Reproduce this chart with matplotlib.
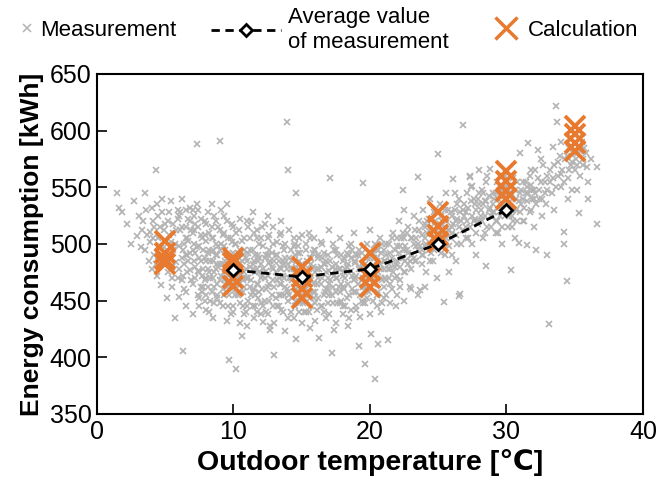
import matplotlib
matplotlib.use("Agg")
import matplotlib.pyplot as plt
from matplotlib.lines import Line2D

plt.rcParams['font.family'] = ['Liberation Sans', 'DejaVu Sans']

meas_t = [
 1.5,1.6,1.8,2.2,2.5,2.7,3.1,3.3,3.5,3.2,2.9,
 3.6,3.9,3.9,4.1,4.3,4.4,4.6,4.7,4.2,4.8,4.5,4.9,3.8,4.0,
 5.1,5.2,5.3,5.4,5.6,5.7,5.8,6.0,6.1,6.2,6.3,6.4,6.5,6.6,6.7,6.8,6.9,5.5,5.9,6.2,6.6,6.8,5.3,6.0,6.4,
 7.0,7.1,7.2,7.3,7.4,7.5,7.6,7.7,7.8,7.9,8.0,8.1,8.2,8.3,8.4,8.5,8.6,8.7,8.8,8.9,7.2,7.5,7.9,8.2,8.6,8.8,7.4,7.7,8.0,8.4,9.0,7.1,7.9,8.3,8.7,
 9.0,9.1,9.2,9.3,9.4,9.5,9.6,9.7,9.8,9.9,10.0,10.1,10.2,10.3,10.4,10.5,10.6,10.7,10.8,10.9,11.0,9.2,9.5,9.8,10.1,10.4,10.7,10.9,9.3,9.6,10.0,10.3,10.6,10.8,9.1,9.4,9.9,10.2,10.5,11.0,
 11.1,11.2,11.3,11.4,11.5,11.6,11.7,11.8,11.9,12.0,12.1,12.2,12.3,12.4,12.5,12.6,12.7,12.7,12.8,12.9,13.0,11.3,11.6,11.9,12.2,12.5,12.8,11.4,11.8,12.1,12.4,12.9,11.2,11.7,12.6,
 13.1,13.2,13.3,13.4,13.5,13.6,13.7,13.8,13.9,14.0,14.1,14.2,14.3,14.4,14.5,14.6,14.6,14.7,14.8,14.9,15.0,13.3,13.6,13.9,14.2,14.5,14.8,13.2,13.7,14.1,14.4,14.9,13.5,14.0,14.7,
 15.1,15.2,15.3,15.4,15.5,15.6,15.7,15.8,15.9,16.0,16.1,16.2,16.3,16.4,16.5,16.6,16.7,16.8,16.9,17.0,15.3,15.7,16.0,16.4,16.8,15.2,15.9,16.6,17.0,15.5,16.2,16.9,17.1,
 17.2,17.4,17.1,17.3,17.5,17.6,17.7,17.8,17.9,18.0,18.1,18.2,18.3,18.4,18.5,18.6,18.7,18.8,18.9,19.0,17.5,17.9,18.3,18.7,17.3,18.0,18.6,19.0,
 19.1,19.2,19.3,19.4,19.5,19.6,19.7,19.8,19.9,20.0,20.1,20.2,20.3,20.4,20.5,20.6,20.7,20.8,20.9,21.0,19.3,19.6,20.0,20.3,20.6,20.9,19.4,19.8,20.5,21.0,
 21.1,21.2,21.3,21.4,21.5,21.6,21.7,21.8,21.9,22.0,22.1,22.2,22.3,22.4,22.5,22.6,22.7,22.8,22.9,23.0,21.5,22.0,22.5,21.2,22.8,
 23.1,23.2,23.3,23.4,23.5,23.6,23.7,23.8,23.9,24.0,24.1,24.2,24.3,24.4,24.5,24.6,24.7,24.8,24.9,25.0,23.5,24.0,24.5,25.0,23.8,
 25.1,25.2,25.4,25.3,25.5,25.6,25.7,25.8,25.9,26.0,26.1,26.2,26.3,26.4,26.5,26.6,26.7,26.8,26.9,27.0,25.5,26.0,26.5,27.0,25.8,26.3,26.8,
 27.1,27.3,27.3,27.4,27.5,27.6,27.7,27.8,27.9,28.0,28.1,28.2,28.3,28.4,28.5,28.6,28.7,28.8,28.9,29.0,27.5,28.0,28.5,29.0,27.8,28.3,
 29.1,29.2,29.3,29.4,29.5,29.6,29.7,29.8,29.9,30.0,30.1,30.2,30.3,30.4,30.5,30.6,30.7,30.8,30.9,31.0,29.5,30.0,30.5,31.0,
 31.1,31.2,31.3,31.5,31.6,31.4,31.7,31.8,31.9,32.0,32.1,32.2,32.3,32.4,32.5,32.6,32.7,32.8,32.9,33.0,31.5,32.0,32.5,33.0,
 33.1,33.2,33.4,33.6,33.7,33.3,33.5,33.8,33.9,34.0,34.2,34.2,34.1,34.3,34.4,34.5,34.6,34.7,34.8,34.9,35.0,33.5,34.0,34.5,
 35.1,35.3,35.4,35.5,35.6,35.8,35.9,36.0,36.2,36.6,36.6,35.2,35.7,36.0,
 # denser core of the cloud
 4.1,4.3,4.6,4.9,5.0,5.2,5.4,5.6,5.8,5.9,4.4,5.1,5.5,5.7,6.0,
 6.1,6.2,6.3,6.4,6.5,6.6,6.7,6.8,6.9,7.0,7.1,7.2,7.3,7.4,7.5,7.6,7.7,7.8,7.9,8.0,6.3,6.7,7.0,7.4,7.8,6.5,7.2,7.6,8.0,
 8.1,8.2,8.3,8.4,8.5,8.6,8.7,8.8,8.9,9.0,9.1,9.2,9.3,9.4,9.5,9.6,9.7,9.8,9.9,10.0,8.2,8.5,8.9,9.2,9.5,9.8,8.4,8.8,9.3,9.7,8.1,8.6,9.0,9.4,9.9,
 10.1,10.2,10.3,10.4,10.5,10.6,10.7,10.8,10.9,11.0,11.1,11.2,11.3,11.4,11.5,11.6,11.7,11.8,11.9,12.0,10.2,10.5,10.8,11.1,11.4,11.7,12.0,10.3,10.7,11.2,11.6,11.9,10.1,10.9,11.5,
 12.1,12.2,12.3,12.4,12.5,12.6,12.7,12.8,12.9,13.0,13.1,13.2,13.3,13.4,13.5,13.6,13.7,13.8,13.9,14.0,12.2,12.6,13.0,13.4,13.8,12.4,12.9,13.3,13.7,14.0,12.3,13.1,13.6,
 14.1,14.2,14.3,14.4,14.5,14.6,14.7,14.8,14.9,15.0,15.1,15.2,15.3,15.4,15.5,15.6,15.7,15.8,15.9,16.0,14.2,14.6,15.0,15.4,15.8,14.4,14.8,15.3,15.7,16.0,14.3,15.1,15.6,
 16.1,16.2,16.3,16.4,16.5,16.6,16.7,16.8,16.9,17.0,17.1,17.2,17.3,17.4,17.5,17.6,17.7,17.8,17.9,18.0,16.2,16.6,17.0,17.4,17.8,16.4,16.8,17.2,17.6,18.0,16.1,16.9,17.5,
 18.1,18.2,18.3,18.4,18.5,18.6,18.7,18.8,18.9,19.0,19.1,19.2,19.3,19.4,19.5,19.6,19.7,19.8,19.9,20.0,18.2,18.6,19.0,19.4,19.8,18.4,18.8,19.2,19.6,20.0,18.1,18.9,19.5,
 20.1,20.2,20.3,20.4,20.5,20.6,20.7,20.8,20.9,21.0,21.1,21.2,21.3,21.4,21.5,21.6,21.7,21.8,21.9,22.0,20.2,20.6,21.0,21.4,21.8,20.4,20.8,21.2,21.6,22.0,
 22.1,22.2,22.3,22.4,22.5,22.6,22.7,22.8,22.9,23.0,23.1,23.2,23.3,23.4,23.5,23.6,23.7,23.8,23.9,24.0,22.2,22.6,23.0,23.4,23.8,22.4,23.2,24.0,
 24.1,24.2,24.3,24.4,24.5,24.6,24.7,24.8,24.9,25.0,25.1,25.2,25.3,25.4,25.5,25.6,25.7,25.8,25.9,26.0,24.4,24.8,25.2,25.6,26.0,
 26.1,26.2,26.3,26.4,26.5,26.6,26.7,26.8,26.9,27.0,27.1,27.2,27.3,27.4,27.5,27.6,27.7,27.8,27.9,28.0,26.4,27.2,28.0,
 28.1,28.2,28.3,28.4,28.5,28.6,28.7,28.8,28.9,29.0,29.1,29.2,29.3,29.4,29.5,29.6,29.7,29.8,29.9,30.0,28.4,29.2,29.8,
 30.1,30.2,30.3,30.4,30.5,30.6,30.7,30.8,30.9,31.0,31.1,31.2,31.3,31.4,31.5,31.6,31.7,31.8,31.9,32.0,30.4,31.2,31.8,
 32.1,32.2,32.3,32.4,32.6,32.8,33.0,33.2,33.4,33.6,33.8,34.0,34.2,34.4,34.6,34.8,35.0,35.2,35.4,35.6,
 # upper edge of the cloud
 3.4,3.7,4.0,4.2,4.5,4.8,5.0,5.3,5.6,5.9,6.2,6.5,6.8,7.1,7.3,7.6,7.9,8.1,8.4,8.7,9.0,9.3,9.6,9.9,10.2,
 10.5,10.8,11.1,11.4,11.7,12.0,12.3,12.6,12.9,13.2,13.5,13.8,14.1,14.4,14.7,15.0,15.3,15.6,15.9,6.0,7.0,8.0,9.5,11.0,12.5,
 # lower edge of the cloud
 6.5,7.0,7.5,8.0,8.5,9.0,9.5,10.0,10.5,11.0,11.5,12.0,12.5,13.0,13.5,14.0,14.5,15.0,15.5,16.0,16.5,
 17.0,17.5,18.0,18.5,19.0,19.5,20.0,20.5,21.0,21.5,22.0,22.5,23.0,23.5,24.0,8.8,11.8,14.8,17.8,20.8,22.2,
 # middle fill
 3.5,4.5,5.5,6.5,7.5,8.5,9.5,10.5,11.5,12.5,13.5,14.5,15.5,16.5,17.5,18.5,19.5,20.5,21.5,22.5,
]
meas_e = [
 545,532,528,518,500,538,525,512,545,497,507,
 530,511,502,520,565,535,515,464,490,528,505,497,485,478,
 452,520,508,538,495,435,512,453,528,488,406,500,515,475,522,492,468,480,470,540,505,532,490,498,460,
 510,485,470,588,530,498,462,505,478,520,455,492,510,470,535,485,448,500,465,515,492,445,488,475,525,482,515,458,503,493,591,500,468,450,478,
 495,472,508,455,485,520,465,398,490,478,445,500,390,470,512,483,419,458,495,440,428,482,462,505,468,478,490,470,498,445,515,455,503,475,530,470,460,488,448,485,
 470,495,455,482,510,445,478,465,500,438,472,431,488,460,505,450,428,424,480,468,402,520,490,475,498,462,492,458,485,515,476,445,462,505,483,
 475,490,455,508,465,440,482,423,608,565,470,495,452,478,500,545,416,462,485,448,472,485,498,460,478,465,505,445,470,488,435,492,520,458,475,
 480,462,495,450,470,426,488,458,505,475,442,490,417,465,500,455,482,435,470,512,475,468,495,480,460,440,452,492,476,510,470,448,558,
 404,424,485,462,495,448,478,505,465,438,488,470,452,428,498,476,460,510,483,445,470,490,480,495,500,462,442,472,
 490,410,436,468,554,394,480,500,458,475,421,492,465,381,485,412,505,470,448,495,480,462,512,488,475,500,450,470,455,478,
 485,500,415,470,492,460,510,480,445,498,520,468,488,548,505,475,495,515,462,490,478,472,530,455,482,
 505,525,485,498,559,512,459,490,530,505,475,520,495,540,510,485,528,500,470,579,500,518,492,515,482,
 535,505,449,520,490,545,512,498,528,510,557,545,520,535,454,456,500,605,525,515,530,490,540,505,475,485,530,
 545,559,560,550,551,520,535,510,540,565,525,548,505,538,481,560,530,566,515,545,500,520,555,528,490,535,
 540,520,555,510,535,548,500,528,560,538,515,545,477,525,558,505,540,520,501,580,525,550,530,545,
 535,555,520,499,589,545,560,530,548,515,565,495,583,540,555,525,570,545,535,490,550,540,575,560,
 429,555,586,622,608,545,570,560,578,550,500,511,565,575,467,558,585,570,548,580,565,530,590,540,
 575,527,560,590,570,580,568,555,575,568,518,548,585,540,
 # denser core of the cloud
 505,482,498,512,488,475,502,518,484,530,472,495,462,500,478,
 512,468,495,482,458,490,503,477,512,465,525,480,497,455,488,508,472,495,450,485,472,485,495,476,462,530,518,485,470,
 462,495,485,458,505,475,490,452,480,468,500,460,475,495,478,488,455,470,485,492,440,470,498,445,490,438,515,490,510,480,478,462,482,465,502,
 480,460,492,465,472,485,445,462,488,470,450,480,468,495,460,475,440,490,458,482,500,458,438,492,445,465,470,475,468,505,455,488,455,478,485,
 460,478,450,490,472,465,485,455,478,462,490,468,445,480,455,472,495,462,478,450,445,495,485,465,488,440,500,470,455,482,470,452,485,
 455,470,485,462,478,450,492,468,458,482,448,475,460,485,455,470,445,480,465,458,440,480,455,470,492,498,440,440,482,448,468,470,488,
 465,452,478,445,470,482,458,475,490,455,468,480,448,472,458,490,462,478,450,485,488,440,465,495,458,502,485,455,470,472,478,460,482,
 460,478,492,465,455,488,472,458,470,490,465,478,455,492,470,482,460,488,475,462,445,500,458,478,452,482,468,495,448,488,475,485,462,
 478,465,495,470,488,458,482,492,468,485,470,490,478,500,465,488,475,495,482,505,450,495,462,482,470,500,478,468,505,485,
 492,480,505,488,475,498,510,492,485,505,490,500,512,485,495,520,498,508,490,515,498,485,478,505,495,510,488,498,
 500,510,522,498,515,505,495,520,512,505,518,525,508,500,515,520,530,512,505,525,485,530,492,505,515,
 518,530,508,522,515,528,520,512,535,528,520,532,515,538,525,540,522,530,518,535,500,505,545,
 530,520,545,525,538,515,542,532,525,535,528,545,520,540,548,532,515,542,525,530,510,510,550,
 532,525,545,540,520,548,530,555,538,528,548,540,532,555,538,545,528,552,540,548,515,520,565,
 545,535,558,548,540,555,548,565,558,550,572,562,555,578,565,572,580,570,582,575,
 # upper edge of the cloud
 520,508,532,515,525,540,518,528,510,522,515,505,520,512,535,522,508,528,505,520,512,525,505,518,510,
 522,505,515,528,512,505,518,508,515,502,510,500,512,505,498,508,500,505,495,525,530,518,535,520,525,
 # lower edge of the cloud
 445,438,452,442,435,448,432,440,430,445,435,448,438,430,442,435,445,430,440,432,445,
 438,430,445,435,442,448,438,445,452,448,455,450,460,455,462,455,452,450,448,440,462,
 # middle fill
 495,485,470,490,475,495,470,495,478,490,478,490,478,488,478,490,480,495,485,495,
]

# ---- Average value of measurement ----
avg_t = [10, 15, 20, 25, 30]
avg_e = [477, 471, 478, 500, 530]

# ---- Calculation ----
calc_t = [5, 5, 5, 5, 10, 10, 10, 10, 15, 15, 15, 15, 20, 20, 20, 20,
          25, 25, 25, 25, 30, 30, 30, 30, 35, 35, 35, 35]
calc_e = [503, 492, 487, 482, 488, 483, 470, 463, 480, 471, 460, 452,
          492, 477, 470, 462, 528, 516, 508, 502, 564, 556, 547, 540,
          604, 597, 589, 582]

xticks = [0, 10, 20, 30, 40]
yticks = [350, 400, 450, 500, 550, 600, 650]

GRAY = '#b3b3b3'
ORANGE = '#e87a30'

fig = plt.figure(figsize=(6.72, 4.83), dpi=100)
ax = fig.add_axes([0.1443, 0.1429, 0.8125, 0.7039])

ax.plot(meas_t, meas_e, linestyle='none', marker='x', ms=5, mew=1.2,
        color=GRAY, zorder=1)
ax.plot(calc_t, calc_e, linestyle='none', marker='x', ms=15, mew=2.8,
        color=ORANGE, zorder=2)
ax.plot(avg_t, avg_e, linestyle='--', dashes=(3, 2), lw=2, color='black',
        marker='D', ms=6.5, mew=2, mfc='white', mec='black', zorder=3)

ax.set_xlim(0, 40)
ax.set_ylim(350, 650)
ax.set_xticks(xticks)
ax.set_yticks(yticks)
ax.tick_params(direction='in', length=7, width=1.2, labelsize=18, pad=4)
for s in ax.spines.values():
    s.set_linewidth(1.5)

ax.set_xlabel('Outdoor temperature [℃]', fontsize=20.5, fontweight='bold', labelpad=4)
ax.set_ylabel('Energy consumption [kWh]', fontsize=19, fontweight='bold', labelpad=4)

# ---- legend: three single-entry legends in a row above the axes ----
legend_specs = [
    (Line2D([], [], linestyle='none', marker='x', ms=6, mew=1.1, color=GRAY),
     'Measurement', 0.6, 20 / 672),
    (Line2D([], [], linestyle='--', dashes=(3, 2), lw=2, color='black',
            marker='D', ms=6, mew=2, mfc='white', mec='black'),
     'Average value\nof measurement', 3.15, 211 / 672),
    (Line2D([], [], linestyle='none', marker='x', ms=16, mew=2.5, color=ORANGE),
     'Calculation', 1.3, 492 / 672),
]
for h, lab, hl, x0 in legend_specs:
    fig.legend([h], [lab], loc='center left', bbox_to_anchor=(x0, 1 - 30 / 483),
               frameon=False, fontsize=16, handlelength=hl, handletextpad=0.3,
               borderpad=0, borderaxespad=0, labelspacing=0.1)

fig.savefig('out.png', dpi=100)
